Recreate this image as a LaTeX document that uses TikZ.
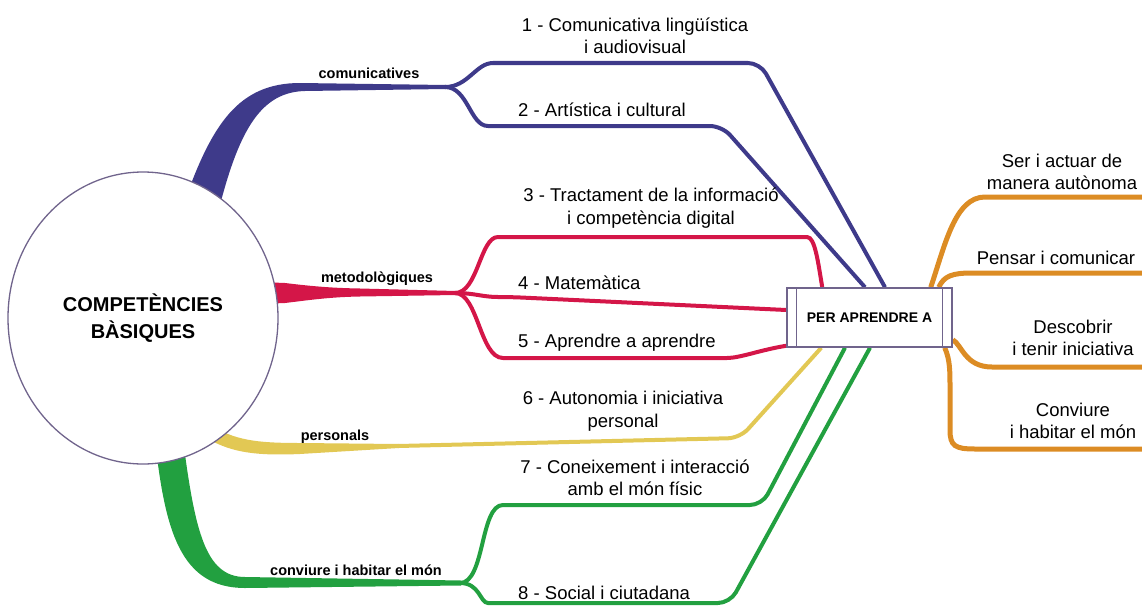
\documentclass[tikz,border=0pt]{standalone}
\usepackage{fontspec}
\setmainfont{Liberation Sans}
\usetikzlibrary{positioning, shapes.geometric, backgrounds}
\definecolor{cblue}{RGB}{62,58,138}
\definecolor{cred}{RGB}{212,22,72}
\definecolor{cyellow}{RGB}{226,200,84}
\definecolor{cgreen}{RGB}{34,160,64}
\definecolor{corange}{RGB}{220,140,36}
\definecolor{cborder}{RGB}{112,100,140}

\begin{document}
\begin{tikzpicture}[x=1pt, y=-1pt,
    branch/.style={line width=4pt, rounded corners=12pt},
    obranch/.style={line width=5pt, corange},
    lbl/.style={font=\fontsize{18.5}{22.5}\selectfont, align=center, inner sep=0pt},
    grp/.style={font=\bfseries\fontsize{14.5}{16}\selectfont, inner sep=0pt}]

    \useasboundingbox (0,0) rectangle (1142,610);

    % Cercle central
    \node[ellipse, draw=cborder, line width=1.3pt, fill=white, minimum width=270pt,
          minimum height=292pt, inner sep=0pt, align=center,
          font=\bfseries\fontsize{20}{27}\selectfont] (core) at (143,318) {COMPETÈNCIES\\BÀSIQUES};

    % Quadre "per aprendre a"
    \node[draw=cborder, line width=1.5pt, fill=white, minimum width=165pt, minimum height=59pt,
          font=\bfseries\fontsize{14}{16}\selectfont] (box) at (869.5,317.5) {PER APRENDRE A};
    \draw[cborder, line width=1.2pt] ([xshift=10pt]box.north west) -- ([xshift=10pt]box.south west);
    \draw[cborder, line width=1.2pt] ([xshift=-10pt]box.north east) -- ([xshift=-10pt]box.south east);

    % Punts de bifurcacio
    \coordinate (fcom) at (445,87);
    \coordinate (fmet) at (455,293);
    \coordinate (fper) at (398,446);
    \coordinate (fconv) at (460,583);

    \begin{scope}[on background layer]
        % Troncs gruixuts
        \fill[cblue] (185,200) .. controls (212,125) and (238,83) .. (300,83) -- (446,85)
            -- (446,89) -- (305,91) .. controls (262,92) and (240,128) .. (220,205) -- cycle;
        \fill[cred] (260,282) -- (285,283) .. controls (310,286) and (330,288) .. (360,288.5)
            -- (456,291) -- (456,295) -- (360,296.5) .. controls (330,297) and (310,300) .. (285,303)
            -- (260,304) -- cycle;
        \fill[cyellow] (210,425) .. controls (235,440) and (255,443) .. (300,443) -- (399,444)
            -- (399,448) -- (300,454) .. controls (255,456) and (232,452) .. (210,440) -- cycle;
        \fill[cgreen] (155,440) .. controls (165,530) and (180,588) .. (245,588) -- (461,585.5)
            -- (461,580.5) -- (245,577) .. controls (205,577) and (195,530) .. (183,440) -- cycle;

        % Branques comunicatives
        \draw[branch, cblue] (fcom) .. controls (468,87) and (476,63) .. (505,63) -- (760,63)
            -- ([xshift=15.5pt]box.north);
        \draw[branch, cblue] (fcom) .. controls (468,87) and (470,126) .. (500,126) -- (722,126)
            -- ([xshift=-4.5pt]box.north);

        % Branques metodologiques
        \draw[branch, cred] (fmet) .. controls (478,293) and (480,237) .. (510,237) -- (795,237)
            .. controls (815,237) and (818,262) .. ([xshift=36pt]box.north west);
        \draw[branch, cred] (fmet) .. controls (475,293) and (482,297) .. (510,297)
            -- ([yshift=7.5pt]box.west);
        \draw[branch, cred] (fmet) .. controls (478,293) and (480,358) .. (515,358) -- (715,358)
            .. controls (740,358) and (760,350) .. ([yshift=2pt]box.south west);

        % Branca personal
        \draw[branch, cyellow] (fper) -- (740,438) -- ([xshift=35pt]box.south west);

        % Branques conviure
        \draw[branch, cgreen] (fconv) .. controls (485,583) and (480,505) .. (515,505) -- (762,505)
            -- ([xshift=-24.5pt]box.south);
        \draw[branch, cgreen] (fconv) .. controls (480,583) and (480,603) .. (500,603) -- (730,603)
            -- ([xshift=0.5pt]box.south);

        % Branques de la dreta
        \draw[obranch] ([xshift=-22pt]box.north east) .. controls (945,245) and (955,197) .. (985,197) -- (1142,197);
        \draw[obranch] ([xshift=-14pt]box.north east) .. controls (944,276) and (952,273) .. (972,273) -- (1142,273);
        \draw[obranch] ([yshift=8pt]box.south east) .. controls (962,345) and (965,367) .. (992,367) -- (1142,367);
        \draw[obranch] ([xshift=-8pt]box.south east) .. controls (950,360) and (950,370) .. (950,390)
            -- (950,430) .. controls (950,446) and (955,449) .. (975,449) -- (1142,449);
    \end{scope}

    % Etiquetes dels grups
    \node[grp] (gcom) at (369,73) {comunicatives};
    \node[grp] (gmet) at (377,279) {metodològiques};
    \node[grp] (gper) at (335,437) {personals};
    \node[grp] (gconv) at (356,570) {conviure i habitar el món};

    % Competencies
    \node[lbl] (c1) at (635,36) {1 - Comunicativa lingüística\\i audiovisual};
    \node[lbl, anchor=west] (c2) at (518,110) {2 - Artística i cultural};
    \node[lbl] (c3) at (651,208) {3 - Tractament de la informació\\i competència digital};
    \node[lbl, anchor=west] (c4) at (518,283) {4 - Matemàtica};
    \node[lbl, anchor=west] (c5) at (518,343) {5 - Aprendre a aprendre};
    \node[lbl] (c6) at (623,411) {6 - Autonomia i iniciativa\\personal};
    \node[lbl] (c7) at (635,478) {7 - Coneixement i interacció\\amb el món físic};
    \node[lbl, anchor=west] (c8) at (518,593) {8 - Social i ciutadana};

    % Per aprendre a ...
    \node[lbl] (a1) at (1062,172) {Ser i actuar de\\manera autònoma};
    \node[lbl] (a2) at (1056,258) {Pensar i comunicar};
    \node[lbl] (a3) at (1073,338) {Descobrir\\i tenir iniciativa};
    \node[lbl] (a4) at (1073,421) {Conviure\\i habitar el món};

\end{tikzpicture}
\end{document}
